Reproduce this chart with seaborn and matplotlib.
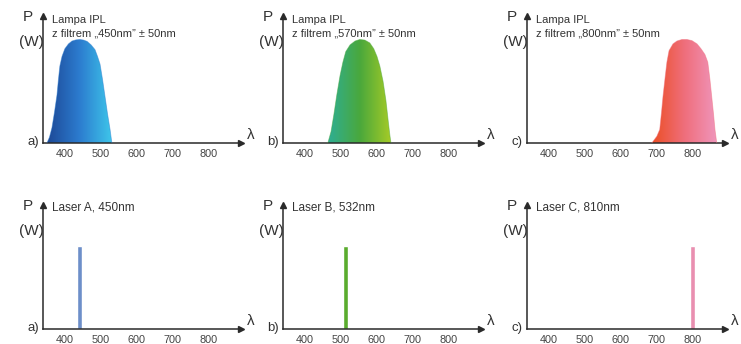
import numpy as np
import pandas as pd
import matplotlib
matplotlib.use("Agg")
import matplotlib.pyplot as plt
import seaborn as sns
from matplotlib.colors import LinearSegmentedColormap

# ---------------- data ----------------
lamp_a_nm = [349, 356, 363, 370, 377, 381, 385, 391, 399, 409, 419, 430, 441, 451, 461, 472, 483, 490, 497, 504, 511, 518, 525, 530]
lamp_a_p = [0, 0.3, 0.8, 1.6, 2.5, 3.3, 4.0, 4.5, 4.9, 5.15, 5.3, 5.36, 5.38, 5.35, 5.28, 5.1, 4.85, 4.5, 4.1, 3.3, 2.4, 1.5, 0.7, 0]

lamp_b_nm = [463, 472, 480, 488, 497, 505, 513, 525, 539, 552, 566, 580, 591, 600, 608, 617, 625, 631, 636, 639]
lamp_b_p = [0, 0.6, 1.5, 2.5, 3.5, 4.2, 4.75, 5.1, 5.3, 5.38, 5.35, 5.2, 4.9, 4.5, 4.0, 3.2, 2.2, 1.2, 0.4, 0]

lamp_c_nm = [686, 700, 708, 713, 717, 723, 728, 734, 745, 756, 770, 784, 798, 812, 823, 834, 842, 848, 853, 858, 862, 867]
lamp_c_p = [0, 0.35, 0.7, 1.6, 2.4, 3.4, 4.2, 4.8, 5.15, 5.3, 5.38, 5.38, 5.32, 5.15, 4.9, 4.6, 4.2, 3.3, 2.4, 1.5, 0.7, 0]

laser_nm = [441, 513, 800]
laser_p = [4.3, 4.3, 4.3]

lamp_title_line1 = ["Lampa IPL", "Lampa IPL", "Lampa IPL"]
lamp_title_line2 = ["z filtrem „450nm” ± 50nm",
                    "z filtrem „570nm” ± 50nm",
                    "z filtrem „800nm” ± 50nm"]
laser_titles = ["Laser A, 450nm", "Laser B, 532nm", "Laser C, 810nm"]
panel_letters = ["a)", "b)", "c)"]
tick_values = [400, 500, 600, 700, 800]
minor_tick_values = [350, 450, 550, 650, 750, 850]
y_tick_values = [1, 2, 3, 4, 5]

# ---------------- styles ----------------
lamp_colors = [["#1d4896", "#2c7ccf", "#3ec6ea"],
               ["#2eae94", "#4aa83c", "#a8cc26"],
               ["#ec4e24", "#ef6e7c", "#f096bc"]]
laser_colors = ["#6d8fc9", "#5aac2e", "#e98fb0"]

sns.set_style("white")
plt.rcParams["font.family"] = ["Liberation Sans", "DejaVu Sans"]

W, H = 741, 344
fig = plt.figure(figsize=(W / 100, H / 100), dpi=100)

lefts = [43, 283, 527]
ax_w = 198
rows = [dict(B=143, T=16, ymax=6.6), dict(B=329, T=205, ymax=6.45)]
XMIN, XMAX = 338, 890
axis_col = "#2a2a2a"
text_col = "#333333"


def fx(px):
    return px / W


def fy(py):
    return 1 - py / H


def setup_axis(ax, L, B, T, letter, ymax):
    ax.set_xlim(XMIN, XMAX)
    ax.set_ylim(0, ymax)
    for s in ["top", "right"]:
        ax.spines[s].set_visible(False)
    for s in ["left", "bottom"]:
        ax.spines[s].set_color(axis_col)
        ax.spines[s].set_linewidth(1.1)
    ax.set_xticks(tick_values)
    ax.set_xticks(minor_tick_values, minor=True)
    ax.set_yticks(y_tick_values)
    ax.set_yticklabels([])
    ax.tick_params(axis="both", which="both", direction="in", length=3,
                   width=0.8, color="#777777")
    ax.tick_params(axis="x", labelsize=7.8, labelcolor="#444444", pad=4)
    ax.set_xlabel("")
    ax.set_ylabel("")
    ax.patch.set_alpha(0)
    # arrows
    ax.plot(1, 0, marker=">", ms=5, color=axis_col, transform=ax.transAxes, clip_on=False)
    ax.plot(0, 1, marker="^", ms=5, color=axis_col, transform=ax.transAxes, clip_on=False)
    fig.text(fx(L - 15), fy(T + 1), "P", fontsize=11, color=text_col, ha="center", va="center")
    fig.text(fx(L + 1), fy(T + 26), "(W)", fontsize=11, color=text_col, ha="right", va="center")
    fig.text(fx(L - 4), fy(B - 1), letter, fontsize=9.5, color=text_col, ha="right", va="center")
    fig.text(fx(L + ax_w + 10), fy(B - 8), "λ", fontsize=11, color=text_col, ha="center", va="center")


lamps = [(lamp_a_nm, lamp_a_p), (lamp_b_nm, lamp_b_p), (lamp_c_nm, lamp_c_p)]

# top row: lamps
r = rows[0]
for i, L in enumerate(lefts):
    ax = fig.add_axes([fx(L), fy(r["B"]), ax_w / W, (r["B"] - r["T"]) / H])
    nm, p = lamps[i]
    df = pd.DataFrame({"nm": nm, "p": p})
    poly = ax.fill_between(df["nm"], 0, df["p"], facecolor="none", edgecolor="none")
    cmap = LinearSegmentedColormap.from_list("g%d" % i, lamp_colors[i])
    grad = np.linspace(0, 1, 256).reshape(1, -1)
    im = ax.imshow(grad, extent=(min(nm), max(nm), 0, max(p)), aspect="auto",
                   cmap=cmap, zorder=2, interpolation="bilinear")
    im.set_clip_path(poly.get_paths()[0], transform=ax.transData)
    sns.lineplot(data=df, x="nm", y="p", ax=ax, color=lamp_colors[i][1],
                 lw=0.6, alpha=0.5, estimator=None, sort=False, zorder=3)
    setup_axis(ax, L, r["B"], r["T"], panel_letters[i], r["ymax"])
    fig.text(fx(L + 9), fy(r["T"] + 4), lamp_title_line1[i], fontsize=8, color=text_col,
             ha="left", va="center")
    fig.text(fx(L + 9), fy(r["T"] + 18), lamp_title_line2[i], fontsize=8, color=text_col,
             ha="left", va="center")

# bottom row: lasers
r = rows[1]
for i, L in enumerate(lefts):
    ax = fig.add_axes([fx(L), fy(r["B"]), ax_w / W, (r["B"] - r["T"]) / H])
    ax.bar([laser_nm[i]], [laser_p[i]], width=14, color=laser_colors[i], zorder=2)
    setup_axis(ax, L, r["B"], r["T"], panel_letters[i], r["ymax"])
    fig.text(fx(L + 9), fy(r["T"] + 2), laser_titles[i], fontsize=8.5, color=text_col,
             ha="left", va="center")

fig.savefig("out.png", dpi=100)
